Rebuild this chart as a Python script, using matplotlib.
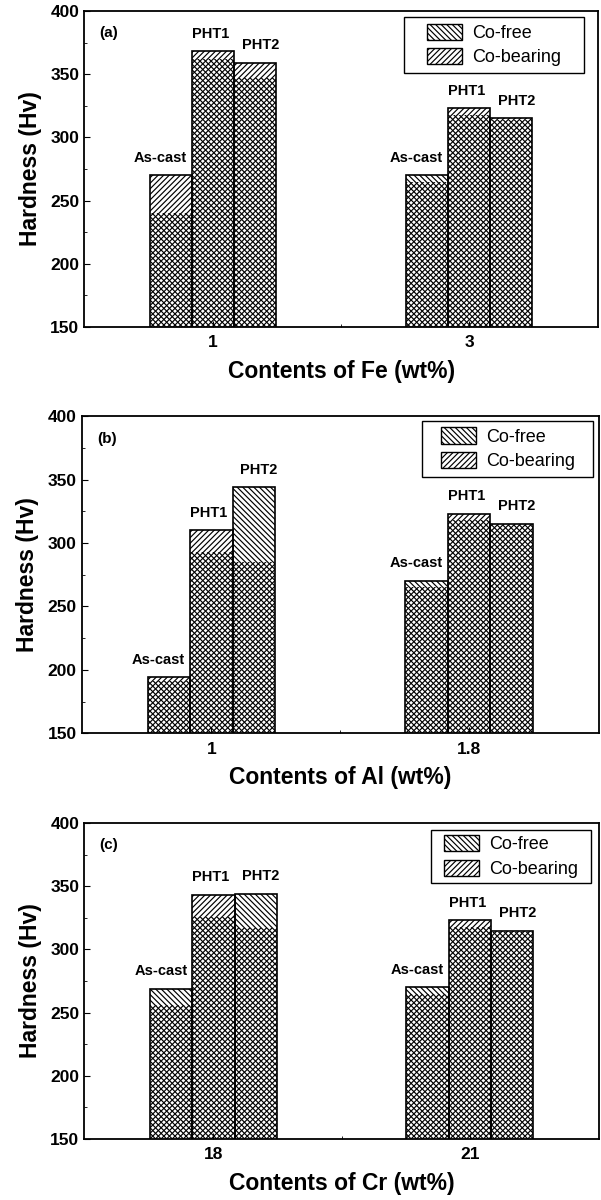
import numpy as np
import matplotlib
matplotlib.use("Agg")
import matplotlib.pyplot as plt
import matplotlib.patches as mpatches
from matplotlib.ticker import MultipleLocator

plt.rcParams['font.family'] = ['Liberation Sans', 'DejaVu Sans']
plt.rcParams['hatch.linewidth'] = 0.85

treatments = ['As-cast', 'PHT1', 'PHT2']

# panel (a): Fe content
fe_ticks = ['1', '3']
fe_co_free = [[240, 362, 347], [270, 318, 314]]
fe_co_bearing = [[270, 368, 359], [265, 323, 315]]

# panel (b): Al content
al_ticks = ['1', '1.8']
al_co_free = [[191, 293, 344], [270, 318, 314]]
al_co_bearing = [[194, 310, 285], [265, 323, 315]]

# panel (c): Cr content
cr_ticks = ['18', '21']
cr_co_free = [[269, 326, 344], [270, 318, 314]]
cr_co_bearing = [[256, 343, 317], [265, 323, 315]]

# tag, element, ticks, data..., axes rect (figure coords), legend box (axes coords)
panels = [
    ('(a)', 'Fe', fe_ticks, fe_co_free, fe_co_bearing,
     [0.140, 0.7275, 0.855, 0.2633], (0.623, 0.804, 0.350, 0.177)),
    ('(b)', 'Al', al_ticks, al_co_free, al_co_bearing,
     [0.136, 0.389, 0.860, 0.264], (0.658, 0.808, 0.332, 0.179)),
    ('(c)', 'Cr', cr_ticks, cr_co_free, cr_co_bearing,
     [0.140, 0.0508, 0.857, 0.2633], (0.674, 0.810, 0.310, 0.168)),
]

BAR_W = 0.165
HATCH_FREE = '\\' * 6
HATCH_BEAR = '/' * 6
label_dx = [-0.04, -0.01, 0.02]  # labels sit a bit off-centre like the original


def draw_panel(ax, tag, element, ticks, co_free, co_bearing, legbox):
    co_free = np.array(co_free)
    co_bearing = np.array(co_bearing)
    centers = np.arange(len(ticks))
    for j in range(len(treatments)):
        x = centers + (j - 1) * BAR_W
        # both hatches on a transparent face: where they overlap you get the cross pattern
        ax.bar(x, co_free[:, j], BAR_W, facecolor='none', edgecolor='black',
               hatch=HATCH_FREE, linewidth=0)
        ax.bar(x, co_bearing[:, j], BAR_W, facecolor='none', edgecolor='black',
               hatch=HATCH_BEAR, linewidth=0)
        top = np.maximum(co_free[:, j], co_bearing[:, j])
        ax.bar(x, top, BAR_W, facecolor='none', edgecolor='black', linewidth=1.2)
        for k in range(len(ticks)):
            ax.text(x[k] + label_dx[j], top[k] + 14, treatments[j], ha='center',
                    va='center', fontsize=10.5, fontweight='bold')

    ax.set_xlim(-0.504, 1.504)
    ax.set_ylim(150, 400)
    ax.set_xticks(centers)
    ax.set_xticklabels(ticks)
    ax.set_xticks([0.5], minor=True)
    ax.yaxis.set_major_locator(MultipleLocator(50))
    ax.yaxis.set_minor_locator(MultipleLocator(25))
    ax.tick_params(direction='in', which='both', labelsize=12.5)
    ax.tick_params(axis='x', pad=6)
    ax.tick_params(which='major', length=4)
    ax.tick_params(which='minor', length=2.5)
    for lab in ax.get_xticklabels() + ax.get_yticklabels():
        lab.set_fontweight('bold')
    for sp in ax.spines.values():
        sp.set_linewidth(1.3)

    ax.set_ylabel('Hardness (Hv)', fontsize=16.5, fontweight='bold', labelpad=6)
    ax.set_xlabel('Contents of ' + element + ' (wt%)', fontsize=16.5, fontweight='bold', labelpad=7)
    ax.text(0.03, 0.93, tag, transform=ax.transAxes, fontsize=11, fontweight='bold',
            va='center', ha='left')

    # legend box is wider than its content in the original, so draw the frame by hand
    box = mpatches.Rectangle(legbox[:2], legbox[2], legbox[3], transform=ax.transAxes,
                             facecolor='white', edgecolor='black', linewidth=1.0, zorder=4)
    ax.add_patch(box)
    handles = [mpatches.Patch(facecolor='white', edgecolor='black', hatch=HATCH_FREE, lw=1.0),
               mpatches.Patch(facecolor='white', edgecolor='black', hatch=HATCH_BEAR, lw=1.0)]
    leg = ax.legend(handles, ['Co-free', 'Co-bearing'], loc='center', fontsize=13,
                    frameon=False, handlelength=1.95, handleheight=1.0, borderpad=0,
                    labelspacing=0.35, handletextpad=0.55, borderaxespad=0,
                    bbox_to_anchor=legbox)
    leg.set_zorder(5)


fig = plt.figure(figsize=(6.01, 12), dpi=100)
for tag, element, ticks, co_free, co_bearing, rect, legbox in panels:
    ax = fig.add_axes(rect)
    draw_panel(ax, tag, element, ticks, co_free, co_bearing, legbox)

fig.savefig('out.png', dpi=100, facecolor='white')
